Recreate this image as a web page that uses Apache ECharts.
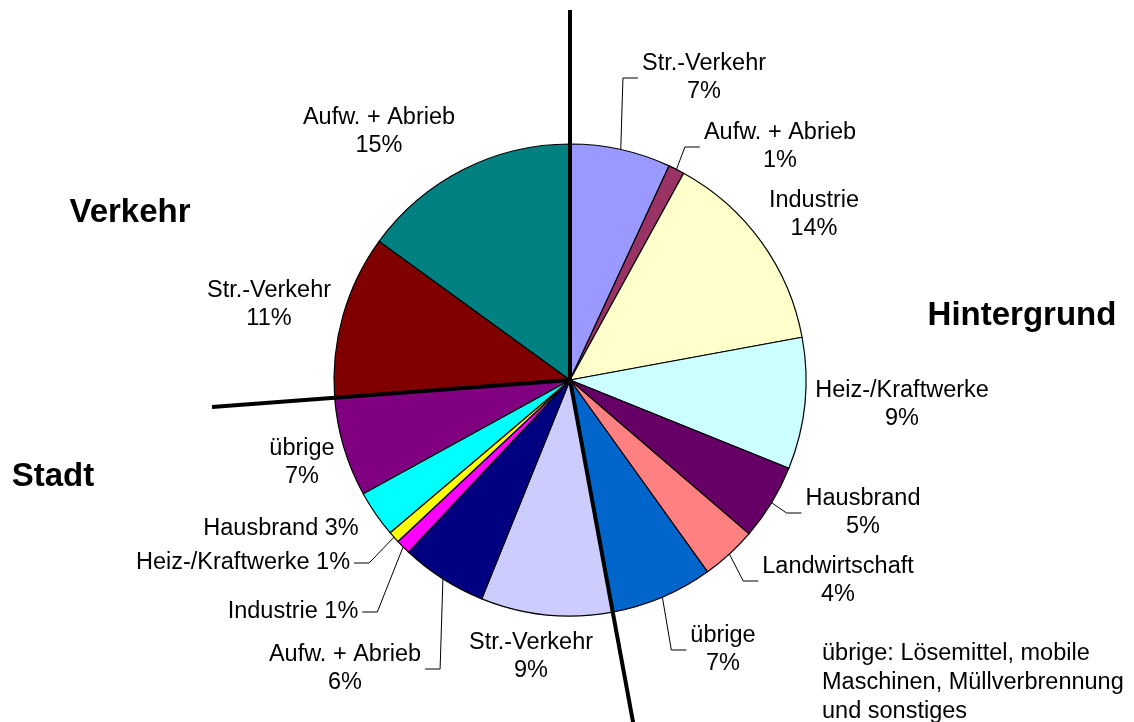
<!DOCTYPE html>
<html lang="de">
<head>
  <meta charset="UTF-8">
  <title>Herkunft der Partikelbelastung</title>
  <script src="https://cdn.jsdelivr.net/npm/echarts@6/dist/echarts.min.js"></script>
</head>
<body style="margin:0;">
  <div id="main" style="width:1134px;height:722px;background:#fff;"></div>
<script>
  // slices clockwise from 12 o'clock
  const names = ['Str.-Verkehr', 'Aufw. + Abrieb', 'Industrie', 'Heiz-/Kraftwerke', 'Hausbrand', 'Landwirtschaft', 'übrige',
    'Str.-Verkehr', 'Aufw. + Abrieb', 'Industrie', 'Heiz-/Kraftwerke', 'Hausbrand', 'übrige',
    'Str.-Verkehr', 'Aufw. + Abrieb'];
  // shares in percent
  const shares = [6.9, 1.1, 14.1, 9.0, 5.2, 3.8, 7.0, 9.0, 5.9, 1.0, 0.8, 3.2, 6.8, 11.2, 15.0];
  // source group of every slice
  const groupOf = ['Hintergrund', 'Hintergrund', 'Hintergrund', 'Hintergrund', 'Hintergrund', 'Hintergrund', 'Hintergrund',
    'Stadt', 'Stadt', 'Stadt', 'Stadt', 'Stadt', 'Stadt',
    'Verkehr', 'Verkehr'];
  const groupNames = ['Hintergrund', 'Stadt', 'Verkehr'];
  const noteLines = ['übrige: Lösemittel, mobile', 'Maschinen, Müllverbrennung', 'und sonstiges'];

  const colors = ['#9999ff', '#993366', '#ffffcc', '#ccffff', '#660066', '#ff8080', '#0066cc',
    '#ccccff', '#000080', '#ff00ff', '#ffff00', '#00ffff', '#800080',
    '#800000', '#008080'];

  // where each label sits (centre of text block)
  const labelSpots = [
    { x: 704, y: 78, leader: true },
    { x: 780, y: 147, leader: true },
    { x: 814, y: 215 },
    { x: 902, y: 405 },
    { x: 863, y: 513, leader: true },
    { x: 838, y: 581, leader: true },
    { x: 723, y: 650, leader: true },
    { x: 531, y: 657 },
    { x: 345, y: 669, leader: true },
    { x: 293, y: 612, leader: true, inline: true },
    { x: 243, y: 563, leader: true, inline: true },
    { x: 281, y: 529, inline: true },
    { x: 302, y: 463 },
    { x: 269, y: 305 },
    { x: 379, y: 132 }
  ];
  const groupSpots = { Hintergrund: [1022, 316], Stadt: [53, 477], Verkehr: [130, 213] };
  const dividerLength = { Hintergrund: 370, Stadt: 360, Verkehr: 359 };

  const cx = 570, cy = 380, radius = 236;
  const font = '"Liberation Sans", Arial, sans-serif';

  let pieData = names.map((n, i) => ({
    name: n,
    value: shares[i],
    itemStyle: { color: colors[i] },
    labelLine: { show: !!labelSpots[i].leader }
  }));

  // thick dividers at the start of each group
  let total = shares.reduce((a, b) => a + b, 0);
  let graphics = [];
  let cum = 0;
  names.forEach((n, i) => {
    if (i === 0 || groupOf[i] !== groupOf[i - 1]) {
      let a = cum / total * Math.PI * 2;
      let len = dividerLength[groupOf[i]];
      graphics.push({
        type: 'line', z: 100,
        shape: { x1: cx, y1: cy, x2: cx + len * Math.sin(a), y2: cy - len * Math.cos(a) },
        style: { stroke: '#000', lineWidth: 4 }
      });
    }
    cum += shares[i];
  });
  groupNames.forEach(g => {
    graphics.push({
      type: 'text', z: 100, x: groupSpots[g][0], y: groupSpots[g][1],
      style: { text: g, fontFamily: font, fontSize: 33, fontWeight: 'bold', fill: '#000', align: 'center', verticalAlign: 'middle' }
    });
  });
  graphics.push({
    type: 'text', z: 100, x: 822, y: 683,
    style: { text: noteLines.join('\n'), fontFamily: font, fontSize: 23.5, lineHeight: 29, fill: '#000', align: 'left', verticalAlign: 'middle' }
  });

  let myChart = echarts.init(document.getElementById('main'));
  let option = {
    animation: false,
    graphic: graphics,
    series: [{
      type: 'pie',
      center: [cx, cy],
      radius: [0, radius],
      startAngle: 90,
      clockwise: true,
      avoidLabelOverlap: false,
      emphasis: { disabled: true },
      itemStyle: { borderColor: '#000', borderWidth: 1.2 },
      label: {
        show: true,
        position: 'outside',
        color: '#000',
        fontFamily: font,
        fontSize: 23.5,
        lineHeight: 28,
        formatter: function (p) {
          let pct = Math.round(p.percent) + '%';
          return labelSpots[p.dataIndex].inline ? p.name + ' ' + pct : p.name + '\n' + pct;
        }
      },
      labelLine: { show: false, smooth: false, lineStyle: { color: '#000', width: 1 } },
      labelLayout: function (params) {
        let spot = labelSpots[params.dataIndex];
        let out = { x: spot.x, y: spot.y, align: 'center', verticalAlign: 'middle' };
        if (spot.leader && params.labelLinePoints) {
          let edge = params.labelLinePoints[0];
          let half = params.labelRect.width / 2;
          let right = spot.x > edge[0];
          let endX = right ? spot.x - half - 4 : spot.x + half + 4;
          let bendX = right ? endX - 15 : endX + 15;
          out.labelLinePoints = [edge, [bendX, spot.y], [endX, spot.y]];
        }
        return out;
      },
      data: pieData
    }]
  };
  myChart.setOption(option);
</script>
</body>
</html>
